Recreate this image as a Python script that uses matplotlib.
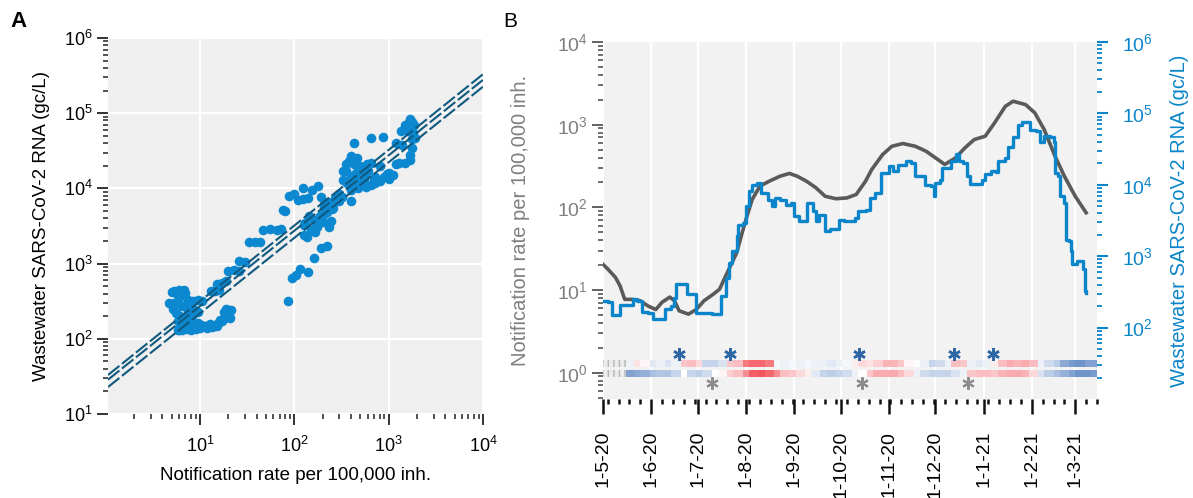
import numpy as np
import matplotlib
matplotlib.use("Agg")
import matplotlib.pyplot as plt
import matplotlib.dates as mdates
from matplotlib.colors import LinearSegmentedColormap
from matplotlib.ticker import LogLocator, NullFormatter, FuncFormatter

plt.rcParams['font.family'] = ['Liberation Sans', 'DejaVu Sans']
plt.rcParams['mathtext.default'] = 'regular'

# ---------------- data ----------------
# panel A: notification rate vs wastewater RNA (one point per day)
scat_x = [20, 18, 15, 13, 11, 9.5, 8, 7.7, 7.4, 6.8, 6.4, 6.0, 5.8, 6.5, 7.0, 7.5, 8.2,
          7.4, 7.0, 6.3, 5.6, 5.0, 5.3, 4.7, 5.5, 5.8, 6.6, 7.4, 8.9, 10.2, 11.5, 12.5,
          13.5, 9.5, 10.5, 17, 18.5, 20.5, 21.5, 19, 13, 14.5, 16, 15, 17, 19, 20, 23,
          26, 26, 30, 33, 38, 43, 47, 55, 65, 72, 75, 80, 88, 100, 110, 125, 140, 155,
          124, 180, 190, 205, 215, 225, 240, 250, 255, 245, 235, 207, 185, 173, 160, 136,
          127, 127, 130, 143, 207, 260, 320, 220, 190, 160, 140, 115, 95, 105, 86,
          435, 520, 560, 580, 590, 570, 548, 500, 477, 400, 397, 397, 360, 350, 330, 350,
          397, 430, 500, 540, 580, 650, 720, 724, 950, 1100, 1200, 1667, 1750, 1920,
          1850, 1780, 1650, 1600, 1350, 1200, 880, 650, 430, 400, 330, 300, 238, 1700,
          1500, 1300, 1000, 800, 1400, 1700,
          5.2, 5.6, 6.2, 6.7, 7.2, 7.8, 8.5, 9.0, 6.2, 7.3, 8.0, 10, 11.8, 12.8, 14, 15.5,
          16.5, 19, 20, 21, 6.0, 6.7, 5.3, 6.0, 7.5, 8.5, 6.5, 8.5, 9.5,
          150, 170, 190, 220, 250, 280, 300, 200, 165, 230, 270,
          420, 450, 600, 650, 380, 460, 700, 800, 900, 1000,
          1500, 1700, 1750, 1800]
scat_y = [240, 230, 150, 150, 150, 160, 205, 250, 240, 170, 165, 130, 131, 131, 150, 180, 200,
          263, 404, 420, 404, 420, 295, 300, 300, 170, 162, 160, 154, 154, 150, 150,
          145, 330, 320, 175, 190, 200, 240, 250, 430, 430, 440, 540, 560, 590, 800, 820,
          800, 1080, 1060, 1950, 1950, 1950, 2800, 2850, 2800, 2900, 5100, 5000, 8000, 8500, 7000, 7200, 7500, 9500,
          10000, 10600, 7700, 6200, 5000, 6550, 6200, 5250, 5500, 3650, 3100, 5500, 4250, 3100, 3830, 2240,
          2400, 3260, 3440, 4250, 4500, 6550, 7700, 1710, 1620, 1180, 770, 855, 653, 700, 320,
          14600, 18100, 15400, 19000, 21200, 20000, 13100, 13100, 10000, 9500, 6900, 10600, 11800, 17100, 17100, 21200,
          27200, 21200, 20000, 13100, 10400, 11000, 11800, 14300, 15400, 15000, 21200, 23700, 34300, 47300,
          68900, 76600, 76600, 58600, 57400, 40300, 48400, 47300, 40300, 14600, 13100, 6900, 5500, 28000,
          22000, 22000, 16000, 20000, 38000, 65000,
          250, 220, 200, 190, 175, 165, 145, 135, 140, 135, 130, 140, 140, 155, 150, 160,
          180, 210, 220, 190, 440, 445, 430, 350, 330, 320, 270, 250, 230,
          2800, 3500, 4000, 4800, 5800, 7000, 8500, 3600, 2600, 6000, 7500,
          12000, 16000, 17000, 22000, 23000, 25000, 13000, 12500, 14000, 13500,
          70000, 85000, 45000, 55000]
# regression line with confidence band (ends of the drawn lines)
fit_x = [1.06, 10000]
fit_mid = [28.6, 277000]
fit_hi = [33, 330000]
fit_lo = [22.8, 225000]

# panel B: days since 1 May 2020
notif_day = [0, 3, 8, 11, 14, 19, 24, 29, 34, 38, 43, 46, 49, 55, 60, 65, 71, 75, 78, 81,
             86, 89, 92, 96, 101, 107, 114, 120, 125, 131, 137, 143, 150, 157, 163, 169,
             173, 180, 186, 193, 201, 208, 214, 220, 227, 233, 239, 246, 252, 259, 264,
             272, 278, 284, 291, 297, 304, 311]
notif_val = [20.4, 18, 14.2, 11.2, 7.7, 7.7, 7.4, 6.4, 5.8, 7.1, 8.2, 7.4, 5.6, 5.1, 5.8,
             7.4, 8.9, 10.2, 13.5, 17.8, 28, 45, 71, 124, 180, 207, 238, 257, 238, 207,
             173, 136, 127, 130, 143, 207, 287, 435, 548, 591, 548, 477, 397, 330, 397,
             525, 661, 724, 1047, 1667, 1920, 1750, 1387, 873, 415, 238, 136, 86]
ww_day = [0, 3, 6, 10, 11, 16, 19, 22, 25, 29, 32, 37, 40, 44, 46, 47, 52, 54, 59, 60,
          66, 70, 75, 76, 79, 81, 83, 86, 87, 90, 92, 94, 96, 99, 102, 106, 109, 111,
          114, 118, 121, 123, 126, 131, 135, 137, 139, 143, 146, 150, 152, 155, 162,
          164, 169, 172, 175, 179, 184, 187, 190, 195, 198, 201, 205, 207, 211, 213,
          214, 217, 218, 222, 224, 227, 229, 232, 234, 236, 244, 246, 250, 253, 254,
          259, 261, 264, 267, 270, 274, 275, 279, 281, 284, 288, 290, 291, 293, 294,
          297, 298, 300, 301, 302, 305, 309, 310, 311]
ww_val = [237, 226, 149, 149, 206, 206, 250, 237, 166, 162, 131, 131, 181, 201, 263, 404,
          404, 293, 293, 162, 162, 154, 154, 278, 501, 813, 1200, 1900, 2760, 2930, 5000,
          8100, 10000, 10600, 7700, 6200, 5000, 6550, 6200, 5250, 5500, 3650, 3100, 5500,
          4250, 3100, 3830, 2240, 2420, 2400, 3260, 3100, 3440, 4250, 4500, 6550, 7700,
          14600, 18100, 15400, 19000, 21200, 20000, 13100, 13100, 10000, 9500, 6900,
          10600, 11800, 17100, 17100, 21200, 27200, 21200, 20000, 13100, 10400, 11800,
          14300, 15400, 15000, 21200, 23700, 34300, 47300, 68900, 76600, 76600, 58600,
          57400, 40300, 48400, 47300, 40300, 14600, 13100, 6900, 5500, 1710, 1620, 1180,
          770, 855, 653, 326, 309]

# correlation strips (5-day steps, nan = not available)
strip_day = list(range(0, 320, 5))
strip_ww = [np.nan, np.nan, np.nan, -0.1, 0.15, 0.05, -0.15, -0.1, -0.2, -0.1, 0.3, 0.35,
            0.2, -0.3, -0.3, -0.2, 0.3, 0.35, 0.7, 0.8, 0.8, 0.7, -0.05, -0.1, -0.05,
            -0.1, -0.05, -0.1, -0.1, -0.15, -0.1, -0.05, 0.1, 0.2, 0.15, 0.25, 0.4, 0.4,
            0.3, 0.05, 0.0, -0.1, -0.3, -0.25, -0.1, 0.35, 0.3, -0.1, -0.15, -0.1, 0.1,
            0.35, 0.45, 0.4, 0.45, 0.35, -0.1, -0.25, -0.35, -0.6, -0.7, -0.75, -0.65, -0.65]
strip_notif = [np.nan, np.nan, np.nan, -0.65, -0.6, -0.55, -0.45, -0.4, -0.4, -0.3, 0.0,
               -0.3, -0.35, -0.25, 0.0, 0.05, 0.25, 0.35, 0.6, 0.85, 0.9, 0.8, 0.6, 0.35,
               0.3, 0.2, 0.1, -0.15, -0.3, -0.35, -0.3, -0.25, -0.1, 0.0, 0.3, 0.45, 0.45,
               0.45, 0.35, 0.2, -0.1, -0.25, -0.3, -0.3, -0.3, -0.2, -0.1, 0.3, 0.35, 0.35,
               0.3, 0.4, 0.45, 0.45, 0.4, 0.2, -0.2, -0.35, -0.45, -0.55, -0.65, -0.75,
               -0.75, -0.7]
star_ww_day = [49, 82, 165, 226, 251]
star_notif_day = [70, 167, 235]

# ---------------- style ----------------
blue = '#0a85c9'
grey_line = '#5a5a5a'
fit_col = '#10597f'
t0 = np.datetime64('2020-05-01')

def to_date(days):
    return t0 + np.round(np.asarray(days, dtype=float)).astype('timedelta64[D]')

fig = plt.figure(figsize=(11.93, 4.98), dpi=100)

# ================= panel A =================
axA = fig.add_axes([108/1193, 84/498, 375/1193, 376/498])
axA.set_facecolor('#efefef')
axA.set_xscale('log')
axA.set_yscale('log')
axA.set_xlim(1.06, 1e4)
axA.set_ylim(10, 1e6)
axA.grid(True, which='major', color='white', lw=1.6)
axA.set_axisbelow(True)
for s in axA.spines.values():
    s.set_visible(False)

axA.scatter(scat_x, scat_y, s=48, color='#0c88d1', linewidths=0, zorder=3)
for yy in (fit_hi, fit_mid, fit_lo):
    axA.plot(fit_x, yy, ls=(0, (7, 1.6)), color=fit_col, lw=1.5, zorder=4)

axA.xaxis.set_major_locator(LogLocator(base=10, numticks=10))
axA.yaxis.set_major_locator(LogLocator(base=10, numticks=10))
axA.xaxis.set_minor_locator(LogLocator(base=10, subs=np.arange(2, 10), numticks=20))
axA.yaxis.set_minor_locator(LogLocator(base=10, subs=np.arange(2, 10), numticks=20))
axA.xaxis.set_minor_formatter(NullFormatter())
axA.yaxis.set_minor_formatter(NullFormatter())
axA.tick_params(which='major', length=8, width=1.3, labelsize=13, color='#222222')
axA.tick_params(which='minor', length=3.5, width=1.1, color='#222222')
axA.tick_params(axis='x', which='major', pad=8)
axA.tick_params(axis='y', which='major', pad=3)
axA.set_xlabel('Notification rate per 100,000 inh.', fontsize=13.5)
axA.set_ylabel('Wastewater SARS-CoV-2 RNA (gc/L)', fontsize=13.5)
axA.xaxis.set_label_coords(0.5, -0.14)
axA.yaxis.set_label_coords(-0.155, 0.5)

fig.text(10/1193, 1 - 27/498, 'A', fontsize=16, fontweight='bold')
fig.text(503/1193, 1 - 27/498, 'B', fontsize=15)

# ================= panel B =================
axB = fig.add_axes([603/1193, 99/498, 494/1193, 357/498])
axB.set_facecolor('#f2f2f2')
axB.set_yscale('log')
axB.set_ylim(0.48, 1e4)
axB.set_xlim(t0, np.datetime64('2021-03-15'))
for s in axB.spines.values():
    s.set_visible(False)
axB.grid(True, axis='x', which='major', color='white', lw=1.6)
axB.set_axisbelow(True)

axB.plot(to_date(notif_day), notif_val, color=grey_line, lw=2.6, zorder=3)

# correlation strips: one 5-day cell per value
cmap = LinearSegmentedColormap.from_list('rb', ['#3f70b8', '#ffffff', '#f2434c'])
sd = np.array(strip_day, dtype=float)
edges = mdates.date2num(to_date(np.append(sd, sd[-1] + 5) - 0.5))
rows = [(strip_ww, 1.16, 1.41), (strip_notif, 0.89, 1.08)]
for vals, y0, y1 in rows:
    v = np.ma.masked_invalid(np.array(vals, dtype=float))
    axB.pcolormesh(edges, [y0, y1], v[np.newaxis, :], cmap=cmap, vmin=-1, vmax=1,
                   shading='flat', zorder=2, antialiased=False)
    first = int(np.argmax(~v.mask))
    na = to_date([sd[0], sd[first]])
    axB.fill_between(na, y0, y1, facecolor='#ececec', edgecolor='#b5b5b5',
                     hatch='|||', linewidth=0, zorder=2)

axB.plot(to_date(star_ww_day), [1.68] * len(star_ww_day), ls='none', marker=(6, 2, 0),
         ms=9, mew=1.8, color='#2f67a6', zorder=4)
axB.plot(to_date(star_notif_day), [0.74] * len(star_notif_day), ls='none', marker=(6, 2, 0),
         ms=9, mew=1.5, color='#8c8c8c', zorder=4)

axB.yaxis.set_major_locator(LogLocator(base=10, numticks=10))
axB.yaxis.set_minor_locator(LogLocator(base=10, subs=np.arange(2, 10), numticks=20))
axB.yaxis.set_minor_formatter(NullFormatter())
axB.tick_params(axis='y', which='major', length=8, width=1.3, labelsize=14,
                color='#555555', labelcolor='#7f7f7f', pad=3)
axB.tick_params(axis='y', which='minor', length=3.5, width=1.2, color='#555555')

axB.xaxis.set_major_locator(mdates.MonthLocator())
axB.xaxis.set_minor_locator(mdates.WeekdayLocator(byweekday=mdates.MO))
axB.xaxis.set_major_formatter(FuncFormatter(
    lambda v, p: '{0.day}-{0.month}-{1}'.format(mdates.num2date(v), mdates.num2date(v).year % 100)))
axB.tick_params(axis='x', which='major', length=11, width=1.8, labelsize=14,
                labelrotation=90, pad=12, color='#111111')
axB.tick_params(axis='x', which='minor', length=3.5, width=1.8, color='#111111')
axB.set_ylabel('Notification rate per 100,000 inh.', fontsize=14.5, color='#7f7f7f')
axB.yaxis.set_label_coords(-0.148, 0.5)

axR = axB.twinx()
axR.set_yscale('log')
axR.set_ylim(10, 1e6)
for s in axR.spines.values():
    s.set_visible(False)
axR.step(to_date(ww_day), ww_val, where='post', color=blue, lw=2.4, zorder=4)
axR.yaxis.set_major_locator(LogLocator(base=10, numticks=10))
axR.yaxis.set_minor_locator(LogLocator(base=10, subs=np.arange(2, 10), numticks=20))
axR.yaxis.set_minor_formatter(NullFormatter())
axR.set_yticks([1e2, 1e3, 1e4, 1e5, 1e6])
axR.tick_params(axis='y', which='major', length=8, width=1.5, labelsize=14,
                color=blue, labelcolor=blue, pad=10)
axR.tick_params(axis='y', which='minor', length=3.5, width=1.3, color=blue)
axR.set_ylabel('Wastewater SARS-CoV-2 RNA (gc/L)', fontsize=14.5, color=blue)
axR.yaxis.set_label_coords(1.148, 0.5)

fig.savefig('out.png', dpi=100)
